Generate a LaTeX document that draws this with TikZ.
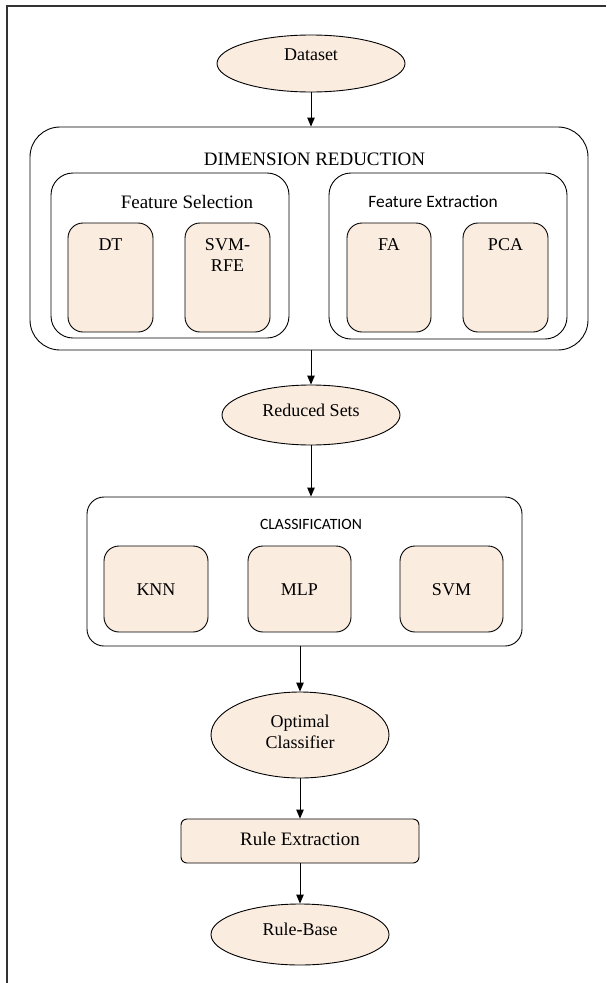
\documentclass[tikz,border=0pt]{standalone}
\usepackage{fontspec}
\setmainfont{Liberation Serif}
\newfontfamily\calibrifont{Carlito}
\usetikzlibrary{shapes.geometric,arrows.meta}
\definecolor{peach}{RGB}{251,236,224}
\begin{document}
\begin{tikzpicture}[x=1pt,y=-1pt,
  grp/.style={draw, line width=0.9pt, inner sep=0pt, fill=white},
  item/.style={draw, line width=0.9pt, inner sep=0pt, fill=peach, rounded corners=15pt},
  oval/.style={draw, ellipse, line width=0.9pt, inner sep=0pt, fill=peach},
  lbl/.style={anchor=base, inner sep=0pt, align=center, font=\fontsize{18}{21}\selectfont},
  lblbig/.style={anchor=base, inner sep=0pt, align=center, font=\fontsize{19}{21}\selectfont},
  sanslbl/.style={anchor=base, inner sep=0pt, font=\calibrifont\fontsize{17.4}{21}\selectfont},
  arr/.style={-{Triangle[length=9pt,width=7.5pt]}, line width=0.9pt}]
\useasboundingbox (0,0) rectangle (606,983);
\fill[white] (0,0) rectangle (606,983);
% page frame
\draw[line width=2pt, black!80] (7,983) -- (7,6) -- (606,6);

% Dataset
\node[oval, minimum width=188pt, minimum height=57pt] (dataset) at (311,63.5) {};
\node[lbl] (datasett) at (311,60) {Dataset};

% Dimension reduction
\node[grp, rounded corners=30pt, minimum width=558pt, minimum height=223pt] (dr) at (309,238.5) {};
\node[lblbig] (drt) at (314.5,165) {DIMENSION REDUCTION};

\node[grp, rounded corners=22pt, minimum width=238pt, minimum height=165pt] (fs) at (170,255.5) {};
\node[lblbig] (fst) at (187,208) {Feature Selection};
\node[grp, rounded corners=22pt, minimum width=238pt, minimum height=166pt] (fe) at (448,256) {};
\node[sanslbl] (fet) at (433,207) {Feature Extraction};

\node[item, minimum width=85pt, minimum height=109pt] (dt) at (110.5,277.5) {};
\node[lbl] (dtt) at (110.5,250) {DT};
\node[item, minimum width=85pt, minimum height=109pt] (svmrfe) at (227.5,277.5) {};
\node[lbl] (svmrfet) at (227.5,271) {SVM-\\RFE};
\node[item, minimum width=84pt, minimum height=109pt] (fa) at (389,277.5) {};
\node[lbl] (fat) at (389,250) {FA};
\node[item, minimum width=85pt, minimum height=109pt] (pca) at (505.5,277.5) {};
\node[lbl] (pcat) at (505.5,250) {PCA};

% Reduced sets
\node[oval, minimum width=178pt, minimum height=60pt] (reduced) at (311,415) {};
\node[lbl] (reducedt) at (311,416) {Reduced Sets};

% Classification
\node[grp, rounded corners=17pt, minimum width=435pt, minimum height=149pt] (cls) at (304.5,571.5) {};
\node[anchor=base, inner sep=0pt, font=\calibrifont\fontsize{15.7}{19}\selectfont] (clst) at (311,529) {CLASSIFICATION};
\node[item, minimum width=104pt, minimum height=86pt] (knn) at (156,589) {};
\node[lbl] (knnt) at (156,595) {KNN};
\node[item, minimum width=103pt, minimum height=86pt] (mlp) at (299.5,589) {};
\node[lbl] (mlpt) at (299.5,595) {MLP};
\node[item, minimum width=103pt, minimum height=86pt] (svm) at (451.5,589) {};
\node[lbl] (svmt) at (451.5,595) {SVM};

% Optimal classifier
\node[oval, minimum width=178pt, minimum height=86pt] (optimal) at (300,735) {};
\node[lbl] (optimalt) at (300,748) {Optimal\\Classifier};

% Rule extraction
\node[item, rounded corners=6pt, minimum width=238pt, minimum height=44pt] (rule) at (300,841) {};
\node[lblbig] (rulet) at (300,845) {Rule Extraction};

% Rule-Base
\node[oval, minimum width=178pt, minimum height=61pt] (rulebase) at (300,934.5) {};
\node[lbl] (rulebaset) at (300,935) {Rule-Base};

% connectors
\draw[arr] (dataset.south) -- (dataset.south |- dr.north);
\draw[arr] (dr.south -| reduced.north) -- (reduced.north);
\draw[arr] (reduced.south) -- (reduced.south |- cls.north);
\draw[arr] (cls.south -| optimal.north) -- (optimal.north);
\draw[arr] (optimal.south) -- (rule.north);
\draw[arr] (rule.south) -- (rulebase.north);
\end{tikzpicture}
\end{document}
